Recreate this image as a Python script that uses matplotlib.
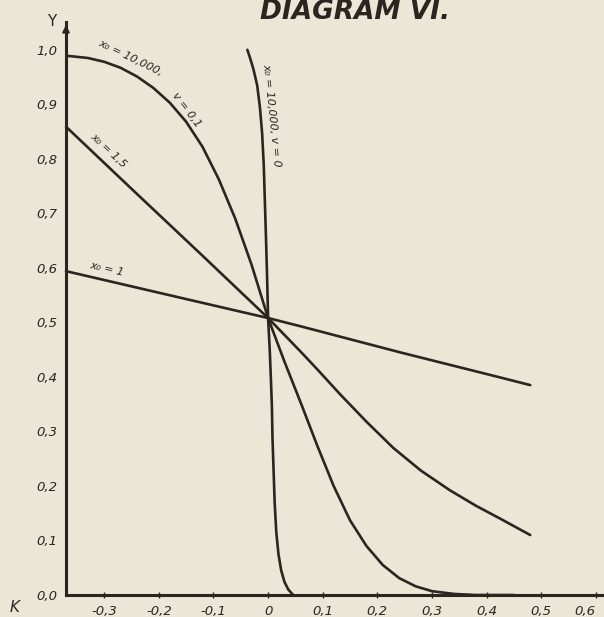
import matplotlib
matplotlib.use("Agg")
import matplotlib.pyplot as plt

# ---- data ----
# x0 = 1 (straight line)
k_x1 = [-0.370, -0.125, 0.0, 0.059, 0.242, 0.425, 0.480]
y_x1 = [0.594, 0.537, 0.508, 0.493, 0.445, 0.399, 0.385]

# x0 = 1.5
k_x15 = [-0.370, -0.250, -0.125, 0.0, 0.030, 0.059, 0.090, 0.132, 0.180, 0.229,
         0.280, 0.333, 0.380, 0.425, 0.480]
y_x15 = [0.859, 0.745, 0.627, 0.508, 0.477, 0.447, 0.414, 0.368, 0.318, 0.270,
         0.228, 0.192, 0.164, 0.140, 0.110]

# x0 = 10 000, v = 0.1
k_v01 = [-0.368, -0.330, -0.300, -0.270, -0.240, -0.210, -0.180, -0.150, -0.120, -0.090,
         -0.060, -0.030, 0.0, 0.030, 0.060, 0.090, 0.120, 0.150, 0.180, 0.210, 0.240,
         0.270, 0.300, 0.340, 0.380, 0.450]
y_v01 = [0.989, 0.985, 0.978, 0.967, 0.951, 0.930, 0.903, 0.868, 0.822, 0.762,
         0.690, 0.605, 0.508, 0.428, 0.352, 0.274, 0.200, 0.137, 0.090, 0.055, 0.031,
         0.016, 0.007, 0.002, 0.0, 0.0]

# x0 = 10 000, v = 0
k_v0 = [-0.038, -0.033, -0.027, -0.020, -0.015, -0.011, -0.008, -0.006, -0.004, -0.002,
        0.0, 0.003, 0.005, 0.007, 0.008, 0.010, 0.012, 0.015, 0.019, 0.024, 0.030,
        0.037, 0.046]
y_v0 = [1.000, 0.985, 0.965, 0.935, 0.895, 0.848, 0.790, 0.725, 0.660, 0.590,
        0.508, 0.450, 0.400, 0.345, 0.290, 0.230, 0.170, 0.115, 0.075, 0.045, 0.024,
        0.010, 0.0]

xtick_vals = [-0.3, -0.2, -0.1, 0.0, 0.1, 0.2, 0.3, 0.4, 0.5, 0.6]
xtick_labels = ["-0,3", "-0,2", "-0,1", "0", "0,1", "0,2", "0,3", "0,4", "0,5", "0,6"]
ytick_vals = [0.0, 0.1, 0.2, 0.3, 0.4, 0.5, 0.6, 0.7, 0.8, 0.9, 1.0]
ytick_labels = ["0,0", "0,1", "0,2", "0,3", "0,4", "0,5", "0,6", "0,7", "0,8", "0,9", "1,0"]

title = "DIAGRAM VI."

# ---- style ----
bg = "#ebe7d6"
ink = "#2a2521"

fig = plt.figure(figsize=(6.04, 6.17), dpi=100, facecolor=bg)
W, H = 604, 617
ax = fig.add_axes([66 / W, 22 / H, (604 - 66) / W, (595 - 22) / H])
ax.set_facecolor(bg)

lw = 1.9
for k, y in [(k_x1, y_x1), (k_x15, y_x15), (k_v01, y_v01), (k_v0, y_v0)]:
    ax.plot(k, y, color=ink, lw=lw, solid_capstyle="round", solid_joinstyle="round", clip_on=False)

ax.set_xlim(-0.370, 0.615)
ax.set_ylim(0, 1.051)

for s in ["top", "right"]:
    ax.spines[s].set_visible(False)
for s in ["left", "bottom"]:
    ax.spines[s].set_linewidth(2.2)
    ax.spines[s].set_color(ink)

ax.set_xticks(xtick_vals)
ax.set_xticklabels(xtick_labels, fontstyle="italic", fontsize=9.5, color=ink)
ax.get_xticklabels()[-1].set_ha("right")
ax.set_yticks(ytick_vals)
ax.set_yticklabels(ytick_labels, fontstyle="italic", fontsize=9.5, color=ink)
ax.tick_params(axis="x", direction="inout", length=4, width=1, colors=ink, pad=5)
ax.tick_params(axis="y", length=0, pad=6, colors=ink)

# arrow at top of Y axis
ax.annotate("", xy=(0, 1.0), xycoords="axes fraction", xytext=(0, 0.96),
            arrowprops=dict(arrowstyle="-|>", color=ink, lw=1.2, mutation_scale=11))

# axis letters
fig.text(52 / W, 1 - 22 / H, "Y", fontsize=11, color=ink, ha="center", va="center")
fig.text(15 / W, 1 - 607 / H, "K", fontsize=11, color=ink, ha="center", va="center", fontstyle="italic")

# title
fig.text(355 / W, 1 - 19 / H, title, fontsize=19, fontweight="bold", fontstyle="italic",
         color=ink, ha="center", va="baseline")

# curve labels
lab = dict(fontsize=8, fontstyle="italic", color=ink, ha="center", va="center", rotation_mode="anchor")
ax.text(-0.252, 0.985, "x₀ = 10,000,", rotation=-26, **lab)
ax.text(-0.150, 0.890, "v = 0,1", rotation=-53, **lab)
ax.text(0.006, 0.880, "x₀ = 10,000, v = 0", rotation=-84, **lab)
ax.text(-0.292, 0.815, "x₀ = 1,5", rotation=-43, **lab)
ax.text(-0.295, 0.598, "x₀ = 1", rotation=-13, **lab)

fig.savefig("out.png", dpi=100, facecolor=bg)
